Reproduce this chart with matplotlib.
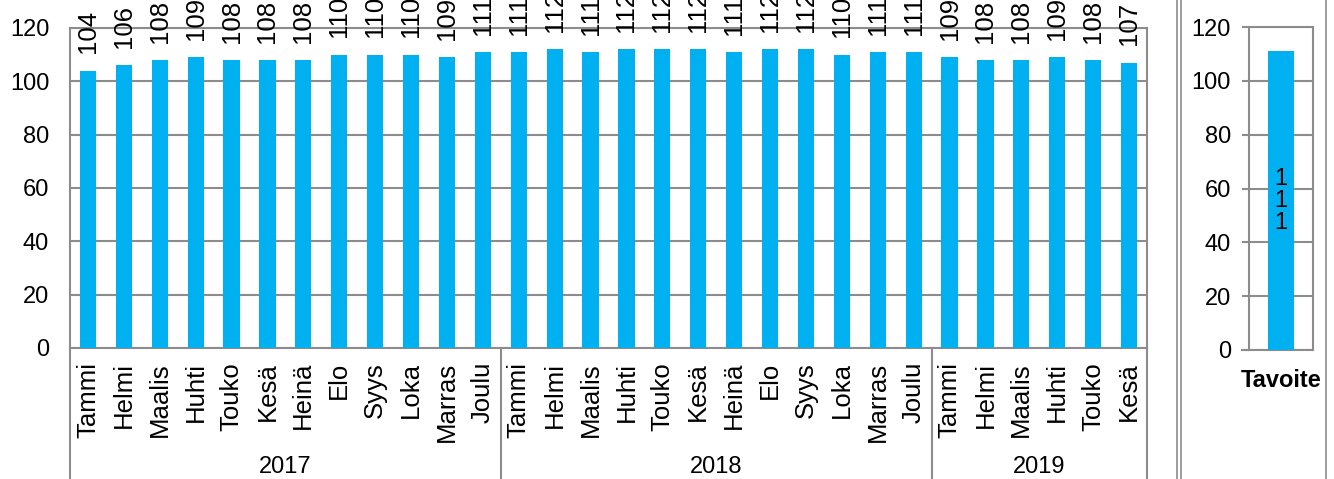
import matplotlib.pyplot as plt
from matplotlib.lines import Line2D

plt.rcParams['font.family'] = ['Liberation Sans', 'DejaVu Sans']

# Data
months = ['Tammi', 'Helmi', 'Maalis', 'Huhti', 'Touko', 'Kesä',
          'Heinä', 'Elo', 'Syys', 'Loka', 'Marras', 'Joulu']
years = ['2017', '2018', '2019']
vals_2017 = [104, 106, 108, 109, 108, 108, 108, 110, 110, 110, 109, 111]
vals_2018 = [111, 112, 111, 112, 112, 112, 111, 112, 112, 110, 111, 111]
vals_2019 = [109, 108, 108, 109, 108, 107]
target_label = 'Tavoite'
target_value = 111

values = vals_2017 + vals_2018 + vals_2019
labels = months + months + months[:len(vals_2019)]
year_counts = [len(vals_2017), len(vals_2018), len(vals_2019)]

W, H = 1334, 479
BLUE = '#00B0F0'
GREY = '#8C8C8C'
FS = 17        # horizontal text
FSV = 18.5     # rotated text

fig = plt.figure(figsize=(W / 100, H / 100), dpi=100)


def px_axes(x0, x1, ytop, ybot):
    return fig.add_axes([x0 / W, 1 - ybot / H, (x1 - x0) / W, (ybot - ytop) / H])


# ---- left chart ----
ax = px_axes(70, 1147, 28, 348)
x = list(range(len(values)))
ax.bar(x, values, width=0.45, color=BLUE, zorder=3)
ax.set_xlim(-0.5, len(values) - 0.5)
ax.set_ylim(0, 120)
ax.set_yticks(range(0, 121, 20))
ax.yaxis.grid(True, color=GREY, linewidth=1.5, zorder=0)
ax.set_xticks(x)
ax.set_xticklabels(labels, rotation=90, va='top', ha='center', fontsize=FSV)
ax.tick_params(axis='x', length=0, pad=10)
ax.tick_params(axis='y', length=0, pad=15, labelsize=FS)
for s in ax.spines.values():
    s.set_color(GREY)
    s.set_linewidth(1.5)

for xi, v in zip(x, values):
    ax.annotate(str(v), (xi, v), xytext=(0, 12.5), textcoords='offset points',
                rotation=90, ha='center', va='bottom', fontsize=FSV,
                annotation_clip=False)

# category axis box with year groups
ybot = (348 - H) / 320.0
bounds = [0]
for n in year_counts:
    bounds.append(bounds[-1] + n)
for b in bounds:
    ax.plot([b - 0.5, b - 0.5], [0, ybot], transform=ax.get_xaxis_transform(),
            color=GREY, linewidth=1.5, clip_on=False)
for yr, a, b in zip(years, bounds[:-1], bounds[1:]):
    ax.text((a + b - 1) / 2, (348 - 467) / 320.0, yr,
            transform=ax.get_xaxis_transform(),
            ha='center', va='center', fontsize=FS)

# ---- right chart ----
ax2 = px_axes(1249, 1313, 27, 350)
ax2.bar([0], [target_value], width=0.42, color=BLUE, zorder=3)
ax2.set_xlim(-0.5, 0.5)
ax2.set_ylim(0, 120)
ax2.set_yticks(range(0, 121, 20))
ax2.yaxis.grid(True, color=GREY, linewidth=1.5, zorder=0)
ax2.set_xticks([0])
ax2.set_xticklabels([target_label], fontsize=FS, fontweight='bold')
ax2.tick_params(axis='x', length=0, pad=14)
ax2.tick_params(axis='y', length=5, width=1.5, color=GREY, pad=8, labelsize=FS)
for s in ax2.spines.values():
    s.set_color(GREY)
    s.set_linewidth(1.5)
ax2.text(0, target_value / 2, '\n'.join(str(target_value)), ha='center',
         va='center', fontsize=FS, linespacing=1.0, zorder=4)
ax2.plot([-0.5 - 7 / 64, -0.5], [0, 0], color=GREY, linewidth=1.5, clip_on=False)

# chart borders (double line between the two charts)
for xp in (1177, 1181, 1326):
    fig.add_artist(Line2D([xp / W, xp / W], [0, 1], color=GREY, linewidth=1.2))

fig.savefig('out.png', dpi=100)
